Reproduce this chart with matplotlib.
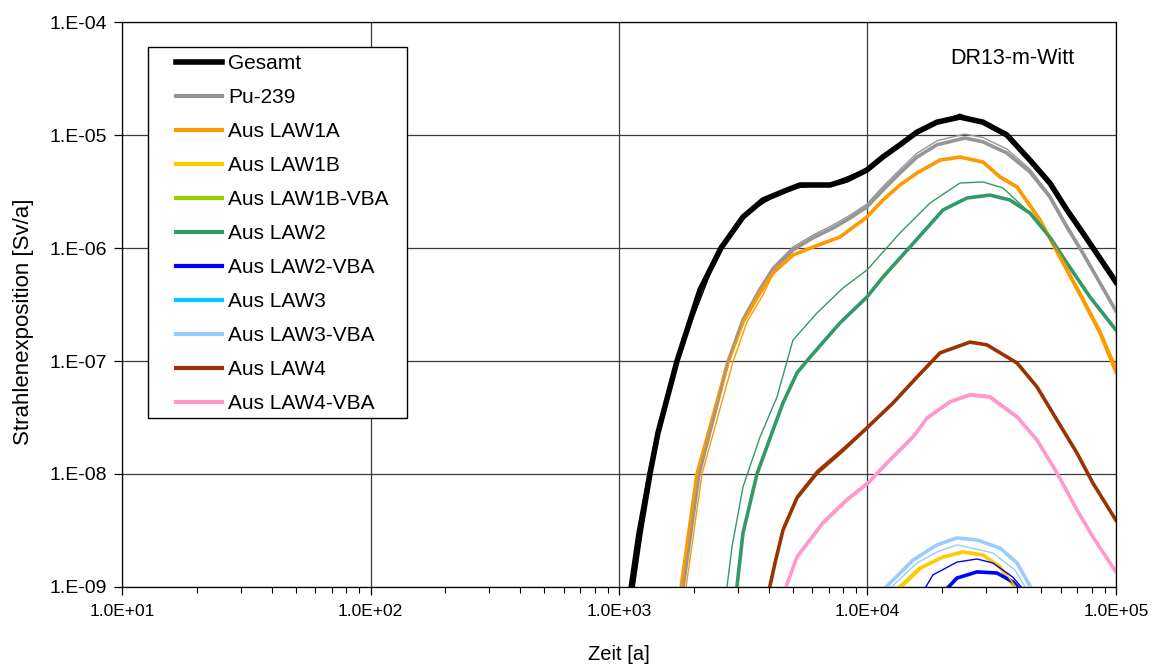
import math
import matplotlib
matplotlib.use('Agg')
import matplotlib.pyplot as plt
from matplotlib.patches import Rectangle
from matplotlib.ticker import LogLocator, FuncFormatter, NullLocator, NullFormatter

plt.rcParams['font.family'] = ['Liberation Sans', 'DejaVu Sans']

# Zeit [a] und Strahlenexposition [Sv/a]
gesamt_t = [1117, 1215, 1332, 1435, 1712, 2118, 2574, 3155, 3797, 4742, 5350, 7063, 8270, 9950,
            11540, 13520, 15820, 19050, 23560, 29160, 36390, 45050, 54200, 63500, 73600, 100000]
gesamt_y = [8.5e-10, 3.0e-9, 1.0e-8, 2.31e-8, 1.0e-7, 4.25e-7, 1.0e-6, 1.88e-6, 2.66e-6, 3.26e-6,
            3.61e-6, 3.61e-6, 4.0e-6, 4.9e-6, 6.4e-6, 8.2e-6, 1.06e-5, 1.30e-5, 1.44e-5, 1.30e-5,
            1.0e-5, 6.0e-6, 3.76e-6, 2.17e-6, 1.36e-6, 5.0e-7]
gesamt2_t = [1087, 1181, 1308, 1703, 2550, 3155, 4742, 7063, 9950, 15820, 23560, 36390, 54200,
             73600, 100000]
gesamt2_y = [8.5e-10, 3.0e-9, 1.0e-8, 1.0e-7, 1.0e-6, 1.95e-6, 3.33e-6, 3.7e-6, 5.0e-6, 1.1e-5,
             1.53e-5, 1.05e-5, 3.85e-6, 1.39e-6, 5.0e-7]

pu_t = [1793, 2099, 2746, 3155, 3693, 4166, 5012, 6036, 7262, 8510, 9950, 11540, 13520, 15820,
        19050, 24660, 29160, 36390, 45050, 54200, 63500, 73600, 100000]
pu_y = [8.5e-10, 1.0e-8, 9.8e-8, 2.31e-7, 4.25e-7, 6.38e-7, 9.6e-7, 1.23e-6, 1.50e-6, 1.84e-6,
        2.31e-6, 3.26e-6, 4.61e-6, 6.38e-6, 8.2e-6, 9.4e-6, 8.7e-6, 6.93e-6, 4.71e-6, 2.83e-6,
        1.53e-6, 9.0e-7, 2.77e-7]
pu2_y = [8.5e-10, 1.0e-8, 1.0e-7, 2.4e-7, 4.5e-7, 6.8e-7, 1.02e-6, 1.3e-6, 1.6e-6, 1.95e-6,
         2.45e-6, 3.5e-6, 4.95e-6, 6.9e-6, 8.9e-6, 1.02e-5, 9.5e-6, 7.5e-6, 5.0e-6, 2.95e-6,
         1.6e-6, 9.3e-7, 2.8e-7]

law1a_t = [1760, 2060, 2366, 2746, 3155, 3693, 4166, 5012, 6036, 7745, 9950, 11540, 13520,
           15820, 19590, 23560, 29160, 34150, 40000, 49400, 59500, 73600, 86300, 100000]
law1a_y = [8.5e-10, 1.0e-8, 3.0e-8, 9.8e-8, 2.21e-7, 4.0e-7, 6.0e-7, 8.67e-7, 1.02e-6, 1.25e-6,
           1.88e-6, 2.66e-6, 3.61e-6, 4.61e-6, 6.0e-6, 6.38e-6, 5.76e-6, 4.25e-6, 3.46e-6,
           1.77e-6, 8.3e-7, 3.47e-7, 1.77e-7, 8.0e-8]
law1a2_t = [1843, 2158, 2477, 2876, 3273, 3797, 4166, 5012, 6036, 7745, 9950, 11540, 13520,
            15820, 19590, 23560, 29160, 34150, 40000, 49400, 59500, 73600, 86300, 100000]
law1a2_y = [8.5e-10, 1.0e-8, 3.0e-8, 9.8e-8, 2.21e-7, 3.84e-7, 5.9e-7, 8.6e-7, 1.03e-6, 1.27e-6,
            1.9e-6, 2.7e-6, 3.65e-6, 4.65e-6, 6.05e-6, 6.45e-6, 5.85e-6, 4.35e-6, 3.55e-6,
            1.85e-6, 8.8e-7, 3.7e-7, 1.9e-7, 9.0e-8]

law1b_t = [12440, 16250, 20130, 24220, 29160, 34150, 41100]
law1b_y = [8.5e-10, 1.47e-9, 1.84e-9, 2.04e-9, 1.92e-9, 1.5e-9, 8.5e-10]
law1b2_t = [12800, 16500, 20130, 24220, 29160, 34150, 41800]
law1b2_y = [8.5e-10, 1.45e-9, 1.86e-9, 2.08e-9, 1.95e-9, 1.55e-9, 8.5e-10]

law2_t = [2957, 3155, 3592, 4166, 4571, 5203, 5870, 7745, 9950, 11540, 14820, 20130, 25120,
          31100, 37420, 45050, 54200, 63500, 78600, 100000]
law2_y = [8.5e-10, 3.0e-9, 1.0e-8, 2.45e-8, 4.25e-8, 7.83e-8, 1.08e-7, 2.17e-7, 3.68e-7,
          5.53e-7, 1.02e-6, 2.17e-6, 2.77e-6, 2.94e-6, 2.66e-6, 2.04e-6, 1.25e-6, 7.36e-7,
          3.68e-7, 1.88e-7]
law2b_t = [2696, 2849, 3155, 3693, 4323, 5012, 6264, 7970, 9950, 13520, 17860, 23560, 29160,
           35080, 45050, 54200, 63500, 78600, 100000]
law2b_y = [8.5e-10, 2.26e-9, 7.67e-9, 2.12e-8, 4.8e-8, 1.53e-7, 2.66e-7, 4.43e-7, 6.38e-7,
           1.36e-6, 2.5e-6, 3.76e-6, 3.84e-6, 3.4e-6, 2.04e-6, 1.27e-6, 7.5e-7, 3.75e-7, 1.9e-7]

law2vba_t = [19760, 22910, 27590, 33200, 38500, 43050]
law2vba_y = [8.5e-10, 1.2e-9, 1.36e-9, 1.33e-9, 1.11e-9, 8.5e-10]
law2vba2_t = [16420, 18350, 22910, 27590, 32000, 38500, 44250]
law2vba2_y = [8.5e-10, 1.28e-9, 1.66e-9, 1.77e-9, 1.63e-9, 1.22e-9, 8.5e-10]

law3vba_t = [11020, 12670, 15250, 19050, 22910, 27590, 34150, 40000, 47200]
law3vba_y = [8.5e-10, 1.15e-9, 1.73e-9, 2.36e-9, 2.72e-9, 2.61e-9, 2.21e-9, 1.63e-9, 8.5e-10]
law3vba2_t = [11550, 15820, 19050, 22910, 32000, 39260, 45050]
law3vba2_y = [8.5e-10, 1.63e-9, 2.04e-9, 2.36e-9, 2.0e-9, 1.41e-9, 8.5e-10]

law4_t = [3978, 4245, 4571, 5203, 6264, 7745, 10050, 12670, 15820, 19590, 25850, 30240, 40000,
          48100, 57900, 69700, 80800, 100000]
law4_y = [8.5e-10, 1.63e-9, 3.19e-9, 6.14e-9, 1.02e-8, 1.53e-8, 2.61e-8, 4.25e-8, 7.2e-8,
          1.18e-7, 1.47e-7, 1.39e-7, 9.6e-8, 5.9e-8, 3.0e-8, 1.53e-8, 8.3e-9, 3.9e-9]
law4b_y = [8.5e-10, 1.7e-9, 3.3e-9, 6.4e-9, 1.07e-8, 1.6e-8, 2.65e-8, 4.3e-8, 7.3e-8, 1.19e-7,
           1.48e-7, 1.4e-7, 9.7e-8, 6.0e-8, 3.05e-8, 1.55e-8, 8.4e-9, 3.95e-9]

law4vba_t = [4571, 5203, 6622, 8270, 10050, 11980, 15250, 17380, 21480, 25850, 31100, 40000,
             48100, 57900, 69700, 80800, 100000]
law4vba_y = [8.5e-10, 1.84e-9, 3.68e-9, 5.89e-9, 8.3e-9, 1.25e-8, 2.12e-8, 3.13e-8, 4.34e-8,
             5.0e-8, 4.8e-8, 3.19e-8, 2.0e-8, 1.02e-8, 4.8e-9, 2.77e-9, 1.36e-9]
law4vba2_y = [8.5e-10, 1.9e-9, 3.85e-9, 6.1e-9, 8.6e-9, 1.29e-8, 2.2e-8, 3.2e-8, 4.45e-8,
              5.15e-8, 4.95e-8, 3.3e-8, 2.05e-8, 1.05e-8, 4.9e-9, 2.8e-9, 1.37e-9]

fig = plt.figure(figsize=(11.61, 6.65), dpi=100)
ax = fig.add_axes([0.1051, 0.1173, 0.8561, 0.8496])

# dicke Linien (mit Legende)
series = [
    ('Gesamt', gesamt_t, gesamt_y, '#000000', 4.0),
    ('Pu-239', pu_t, pu_y, '#969696', 2.6),
    ('Aus LAW1A', law1a_t, law1a_y, '#FF9900', 2.6),
    ('Aus LAW1B', law1b_t, law1b_y, '#FFCC00', 2.6),
    ('Aus LAW1B-VBA', [], [], '#99CC00', 2.6),
    ('Aus LAW2', law2_t, law2_y, '#339966', 2.6),
    ('Aus LAW2-VBA', law2vba_t, law2vba_y, '#0000FF', 2.6),
    ('Aus LAW3', [], [], '#00CCFF', 2.6),
    ('Aus LAW3-VBA', law3vba_t, law3vba_y, '#99CCFF', 2.6),
    ('Aus LAW4', law4_t, law4_y, '#993300', 2.6),
    ('Aus LAW4-VBA', law4vba_t, law4vba_y, '#FF99CC', 2.6),
]
for name, t, y, c, lw in series:
    ax.plot(t, y, color=c, lw=lw, label=name, solid_joinstyle='round')

# duenne Linien (zweite Variante)
thin = [
    (gesamt2_t, gesamt2_y, '#000000'),
    (pu_t, pu2_y, '#969696'),
    (law1a2_t, law1a2_y, '#FF9900'),
    (law1b2_t, law1b2_y, '#FFCC00'),
    (law2b_t, law2b_y, '#339966'),
    (law2vba2_t, law2vba2_y, '#0000FF'),
    (law3vba2_t, law3vba2_y, '#99CCFF'),
    (law4_t, law4b_y, '#993300'),
    (law4vba_t, law4vba2_y, '#FF99CC'),
]
for t, y, c in thin:
    ax.plot(t, y, color=c, lw=1.0)

ax.set_xscale('log')
ax.set_yscale('log')
ax.set_xlim(10, 1e5)
ax.set_ylim(1e-9, 1e-4)

ax.xaxis.set_major_locator(LogLocator(base=10, numticks=10))
ax.xaxis.set_minor_locator(LogLocator(base=10, subs=range(2, 10), numticks=50))
ax.xaxis.set_minor_formatter(NullFormatter())
ax.yaxis.set_major_locator(LogLocator(base=10, numticks=10))
ax.yaxis.set_minor_locator(NullLocator())

ax.xaxis.set_major_formatter(FuncFormatter(lambda v, p: '1.0E%+03d' % round(math.log10(v))))
ax.yaxis.set_major_formatter(FuncFormatter(lambda v, p: '1.E%+03d' % round(math.log10(v))))

ax.grid(True, which='major', color='#3a3a3a', lw=0.9)
ax.tick_params(which='major', direction='out', length=6, width=0.9)
ax.tick_params(which='minor', direction='out', length=4, width=0.8)
ax.tick_params(axis='x', labelsize=12.5, pad=6)
ax.tick_params(axis='y', labelsize=14, pad=5)
for s in ax.spines.values():
    s.set_color('#000000')
    s.set_linewidth(0.9)

ax.set_xlabel('Zeit [a]', fontsize=14.5)
ax.xaxis.set_label_coords(0.5, -0.102)
ax.set_ylabel('Strahlenexposition [Sv/a]', fontsize=16)
ax.yaxis.set_label_coords(-0.089, 0.469)

ax.text(0.833, 0.936, 'DR13-m-Witt', transform=ax.transAxes, fontsize=15.5, va='center')

# Legende mit eigenem Rahmen
ax.add_patch(Rectangle((0.0262, 0.2991), 0.2605, 0.6567, transform=ax.transAxes,
                       facecolor='white', edgecolor='black', lw=1.0, zorder=4))
leg = ax.legend(loc='upper left', bbox_to_anchor=(0.0543, 0.9425), fontsize=15, frameon=False,
                handlelength=2.2, handletextpad=0.3, labelspacing=0.72, borderpad=0,
                borderaxespad=0)
leg.set_zorder(5)
for line in leg.get_lines():
    line.set_linewidth(3.0)
leg.get_lines()[0].set_linewidth(4.0)

plt.savefig('out.png', dpi=100)
